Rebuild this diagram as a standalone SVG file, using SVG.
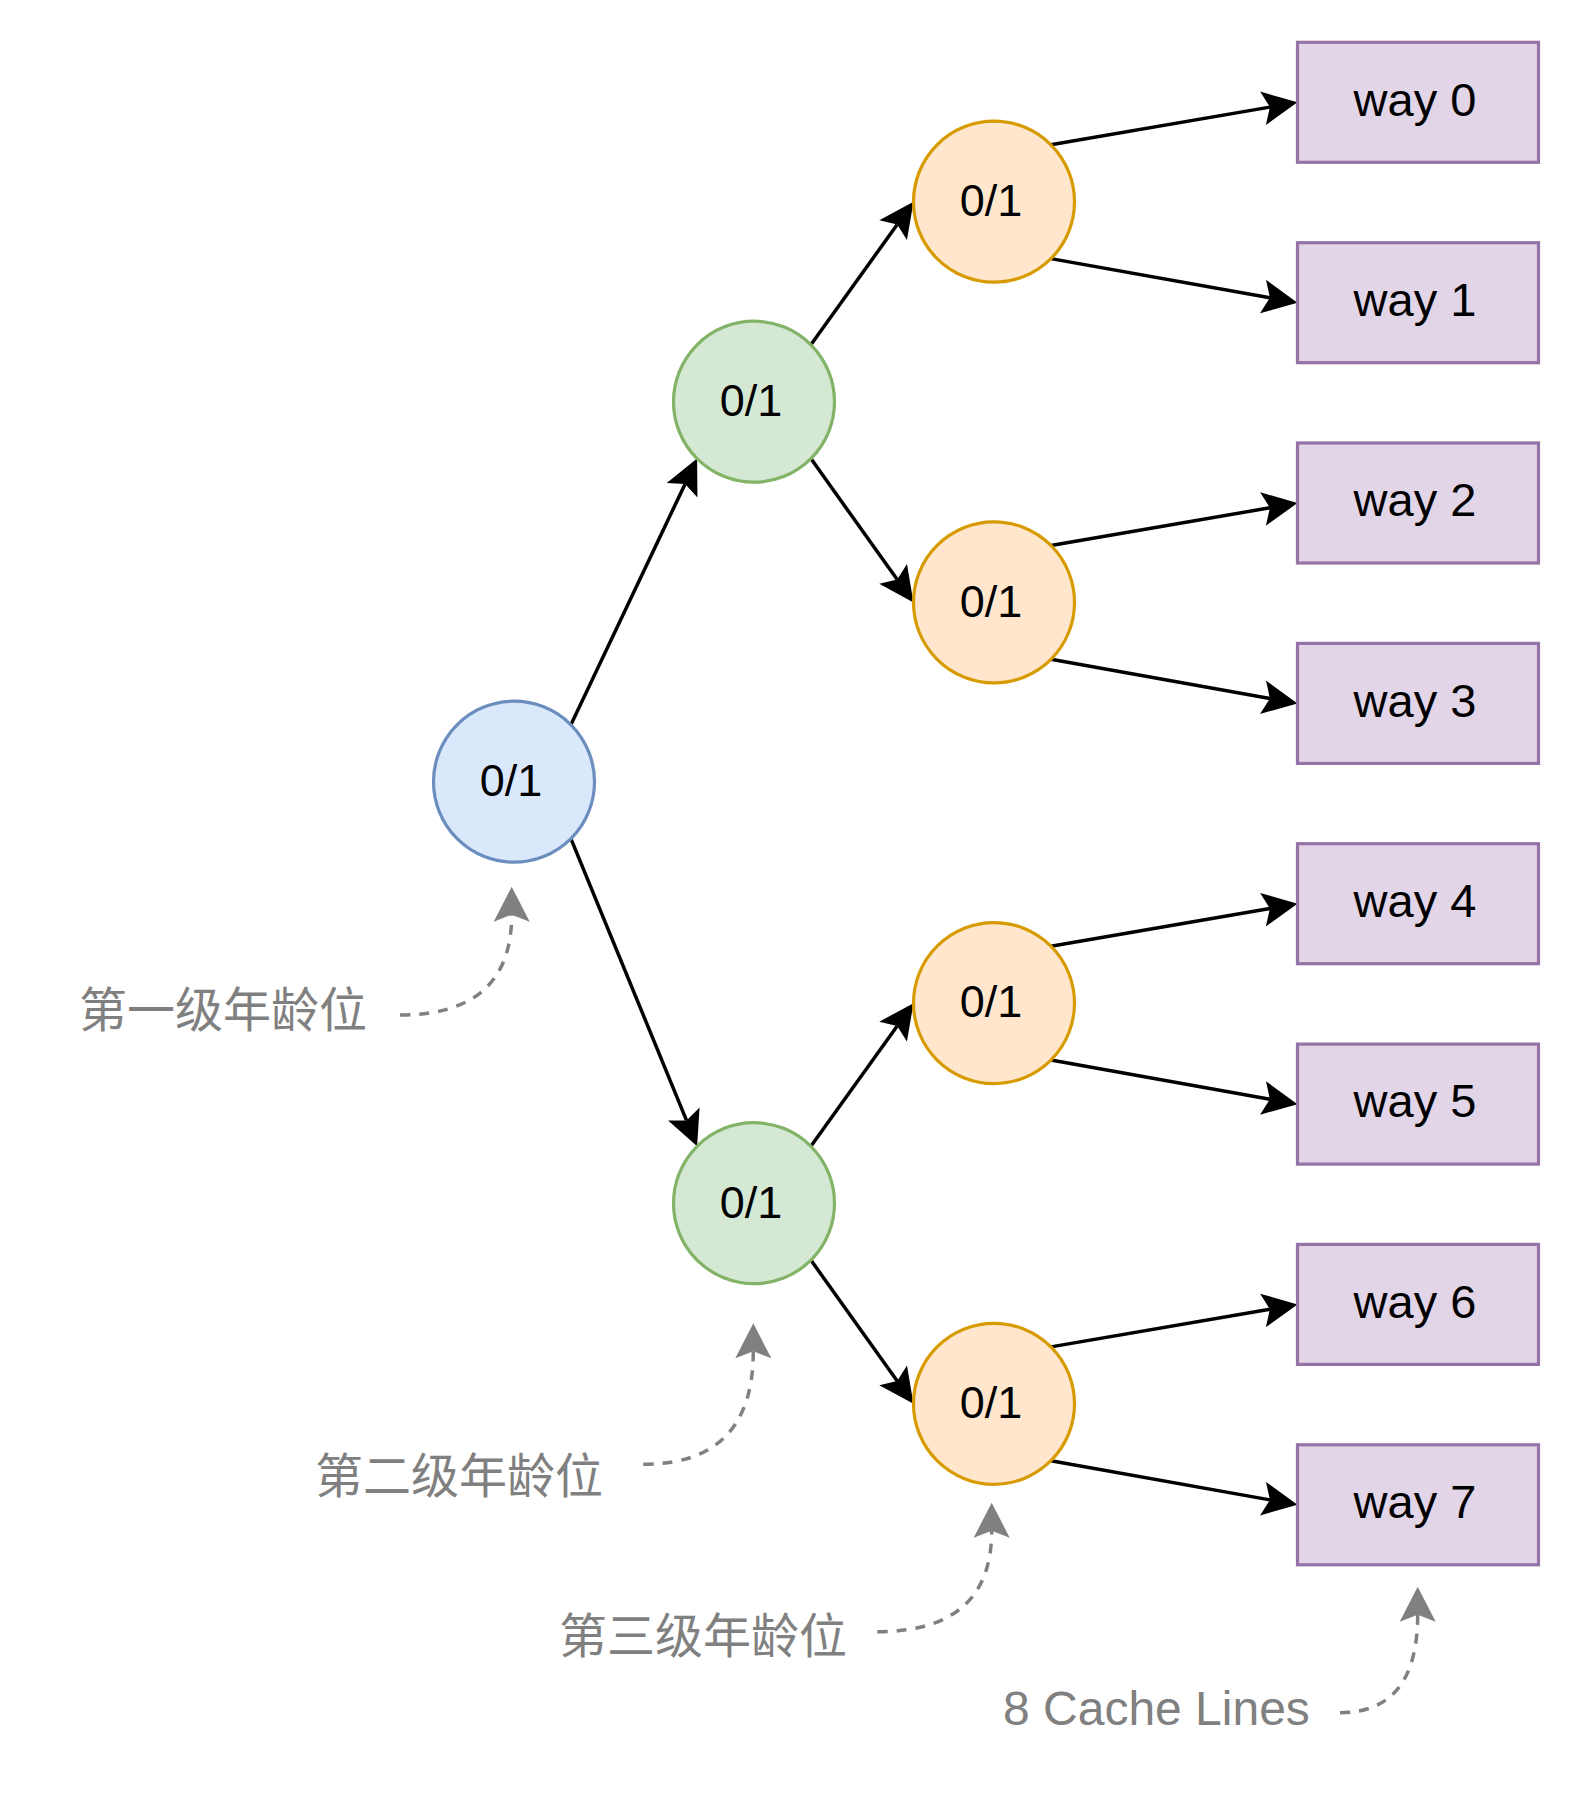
<svg xmlns="http://www.w3.org/2000/svg" width="1580" height="1808" viewBox="0 0 1580 1808">
<defs>
<marker id="arrBlack" markerUnits="userSpaceOnUse" markerWidth="60" markerHeight="60" refX="0" refY="0" orient="auto" overflow="visible">
<path d="M28,0 L-7,-17 L0,0 L-7,17 Z" fill="#000"/>
</marker>
<marker id="arrGray" markerUnits="userSpaceOnUse" markerWidth="60" markerHeight="60" refX="0" refY="0" orient="auto" overflow="visible">
<path d="M28,0 L-7,-18 L0,0 L-7,18 Z" fill="#808080"/>
</marker>
<style>
.edge{fill:none;stroke:#000;stroke-width:3.5;marker-end:url(#arrBlack)}
.note{fill:none;stroke:#808080;stroke-width:3.5;stroke-dasharray:10 9;marker-end:url(#arrGray)}
.blue{fill:#dae8fc;stroke:#6c8ebf;stroke-width:3.2}
.green{fill:#d5e8d4;stroke:#82b366;stroke-width:3.2}
.orange{fill:#ffe6cc;stroke:#d79b00;stroke-width:3.2}
.way{fill:#e1d5e7;stroke:#9673a6;stroke-width:3.2}
.ct{font-family:"Liberation Sans",Arial,sans-serif;font-size:45px;fill:#000;text-anchor:middle}
.bt{font-family:"Liberation Sans",Arial,sans-serif;font-size:47px;fill:#000;text-anchor:middle}
.lbl{font-family:"Liberation Sans","Noto Sans CJK SC",sans-serif;font-size:48px;fill:#808080}
</style>
</defs>
<rect width="1580" height="1808" fill="#fff"/>

<g id="connectors">
<path class="edge" d="M570.9,724.8 L685.1,483.9"/>
<path class="edge" d="M570.9,838.6 L686.5,1120.4"/>
<path class="edge" d="M810.9,344.8 L897.2,224.5"/>
<path class="edge" d="M810.9,458.6 L897.2,579.6"/>
<path class="edge" d="M810.9,1146.3 L897.2,1025.9"/>
<path class="edge" d="M810.9,1260.1 L897.2,1381.0"/>
<path class="edge" d="M1050.9,144.8 L1269.9,107.1"/>
<path class="edge" d="M1050.9,258.6 L1269.9,297.8"/>
<path class="edge" d="M1050.9,545.5 L1269.9,507.8"/>
<path class="edge" d="M1050.9,659.3 L1269.9,698.5"/>
<path class="edge" d="M1050.9,946.2 L1269.9,908.5"/>
<path class="edge" d="M1050.9,1060.0 L1269.9,1099.2"/>
<path class="edge" d="M1050.9,1346.9 L1269.9,1309.2"/>
<path class="edge" d="M1050.9,1460.7 L1269.9,1499.9"/>
<path class="note" d="M400,1015 Q511.7,1015 511.7,914.7"/>
<path class="note" d="M643.3,1464.3 Q753.3,1464.3 753.3,1351.3"/>
<path class="note" d="M877.3,1631.7 Q991.7,1631.7 991.7,1530.7"/>
<path class="note" d="M1340,1712.7 Q1417.7,1712.7 1417.7,1614.7"/>
</g>

<g id="level1">
<circle class="blue" cx="514" cy="781.7" r="80.5"/>
<text class="ct" x="511" y="796">0/1</text>
</g>
<g id="level2-top">
<circle class="green" cx="754" cy="401.7" r="80.5"/>
<text class="ct" x="751" y="416">0/1</text>
</g>
<g id="level2-bottom">
<circle class="green" cx="754" cy="1203.2" r="80.5"/>
<text class="ct" x="751" y="1217.5">0/1</text>
</g>
<g id="level3-a">
<circle class="orange" cx="994" cy="201.7" r="80.5"/>
<text class="ct" x="991" y="216">0/1</text>
</g>
<g id="level3-b">
<circle class="orange" cx="994" cy="602.4" r="80.5"/>
<text class="ct" x="991" y="616.7">0/1</text>
</g>
<g id="level3-c">
<circle class="orange" cx="994" cy="1003.1" r="80.5"/>
<text class="ct" x="991" y="1017.4">0/1</text>
</g>
<g id="level3-d">
<circle class="orange" cx="994" cy="1403.8" r="80.5"/>
<text class="ct" x="991" y="1418.1">0/1</text>
</g>

<g id="way0"><rect class="way" x="1297.5" y="42.3" width="241" height="120"/><text class="bt" x="1415" y="115.5">way 0</text></g>
<g id="way1"><rect class="way" x="1297.5" y="242.7" width="241" height="120"/><text class="bt" x="1415" y="315.9">way 1</text></g>
<g id="way2"><rect class="way" x="1297.5" y="443.0" width="241" height="120"/><text class="bt" x="1415" y="516.2">way 2</text></g>
<g id="way3"><rect class="way" x="1297.5" y="643.4" width="241" height="120"/><text class="bt" x="1415" y="716.6">way 3</text></g>
<g id="way4"><rect class="way" x="1297.5" y="843.7" width="241" height="120"/><text class="bt" x="1415" y="916.9">way 4</text></g>
<g id="way5"><rect class="way" x="1297.5" y="1044.1" width="241" height="120"/><text class="bt" x="1415" y="1117.3">way 5</text></g>
<g id="way6"><rect class="way" x="1297.5" y="1244.4" width="241" height="120"/><text class="bt" x="1415" y="1317.6">way 6</text></g>
<g id="way7"><rect class="way" x="1297.5" y="1444.8" width="241" height="120"/><text class="bt" x="1415" y="1518">way 7</text></g>

<g id="label-level1"><text class="lbl" x="79" y="1027">第一级年龄位</text></g>
<g id="label-level2"><text class="lbl" x="315" y="1493">第二级年龄位</text></g>
<g id="label-level3"><text class="lbl" x="559" y="1652.5">第三级年龄位</text></g>
<g id="label-cachelines"><text class="lbl" x="1003" y="1725">8 Cache Lines</text></g>
</svg>
